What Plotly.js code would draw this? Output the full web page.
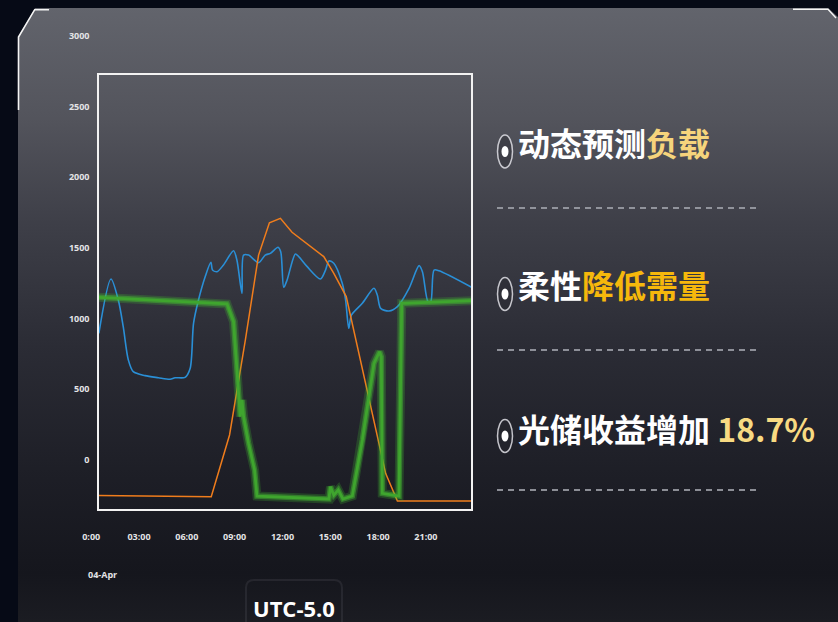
<!DOCTYPE html>
<html>
<head>
<meta charset="utf-8">
<script src="https://cdn.plot.ly/plotly-3.0.1.min.js"></script>
<style>
  html, body { margin: 0; padding: 0; background: #060a16; }
  #wrap { position: relative; width: 838px; height: 622px; overflow: hidden; background: #060a16; }
  #panel { position: absolute; left: 18px; top: 8px; width: 820px; height: 614px;
    background: linear-gradient(180deg, #62646c 0%, #53545c 18%, #3e3f48 35%, #2b2c35 55%, #1e1f27 75%, #15161d 92%, #1b1c22 100%);
    clip-path: polygon(0 29px, 17px 0, calc(100% - 10px) 0, 100% 9px, 100% 100%, 0 100%); }
  #chart { position: absolute; left: 0; top: 0; width: 838px; height: 622px; }
</style>
</head>
<body>
<div id="wrap">
  <div id="panel"></div>
  <div id="chart"></div>
</div>
<script>
// ---- data (hours of day, values) ----
const loadHours = [0.48,1.24,1.70,2.01,2.33,2.64,3.38,4.21,4.95,5.26,5.89,6.21,6.42,6.73,7.15,7.51,7.61,7.89,8.30,8.93,9.14,9.46,9.56,9.87,10.50,10.92,11.24,11.72,11.89,12.08,12.29,12.81,13.02,13.55,14.38,14.70,14.91,15.22,15.75,15.96,16.16,16.33,17.01,17.74,17.95,18.16,18.68,19.21,19.94,20.57,20.78,21.13,21.30,21.51,21.82,23.92];
const loadValues = [896,1281,1132,943,708,625,597,582,571,582,585,649,967,1132,1297,1399,1344,1332,1380,1481,1415,1179,1450,1450,1396,1450,1462,1505,1474,1222,1274,1458,1439,1368,1281,1344,1408,1392,1250,1132,932,1026,1109,1215,1168,1073,1054,1085,1215,1375,1332,1120,1120,1344,1339,1219];

const pvHours = [0.48,7.53,8.68,9.67,10.50,11.18,11.87,12.60,14.59,15.22,16.00,18.47,19.21,23.92];
const pvValues = [-252,-260,177,849,1450,1679,1710,1611,1439,1321,1156,-94,-290,-290];

const essHours = [0.48,8.52,8.93,9.25,9.35,9.46,9.56,9.87,10.25,10.40,14.91,15.01,15.22,15.50,15.79,16.38,17.01,17.74,18.09,18.20,18.26,19.31,19.48,23.92];
const essValues = [1151,1104,979,472,307,425,307,118,-71,-255,-276,-189,-248,-212,-276,-255,142,684,766,731,-236,-255,1109,1127];

const xTickHours = [0,3,6,9,12,15,18,21];
const xTickLabels = ['0:00','03:00','06:00','09:00','12:00','15:00','18:00','21:00'];
const yTickValues = [0,500,1000,1500,2000,2500,3000];
const dateLabel = '04-Apr';
const items = [
  {white: '动态预测', accent: '负载', accentColor: '#f6d47c'},
  {white: '柔性', accent: '降低需量', accentColor: '#f6b80c'},
  {white: '光储收益增加 ', accent: '18.7%', accentColor: '#f8da82'}
];
const tzLabel = 'UTC-5.0';

// ---- geometry helpers (page pixels -> paper fractions, margins are 0) ----
const W = 838, H = 622;
const px = x => x / W;
const py = y => 1 - y / H;

const traces = [
  {x: loadHours, y: loadValues, mode: 'lines', line: {color: '#2a8fd6', width: 1.6, shape: 'spline', smoothing: 0.8}},
  {x: pvHours, y: pvValues, mode: 'lines', line: {color: '#f07d1c', width: 1.5}},
  {x: essHours, y: essValues, mode: 'lines', line: {color: 'rgba(70,200,50,0.22)', width: 9}},
  {x: essHours, y: essValues, mode: 'lines', line: {color: 'rgba(70,190,50,0.45)', width: 5.5}},
  {x: essHours, y: essValues, mode: 'lines', line: {color: '#3fa52e', width: 2.8}}
];

const tickFont = {family: 'Open Sans, sans-serif', size: 9, color: '#e4e4e6', weight: 700};

const shapes = [
  // plot frame box
  {type: 'rect', xref: 'paper', yref: 'paper', x0: px(98), x1: px(472), y0: py(510), y1: py(74),
   line: {color: '#f2f2f2', width: 2}, fillcolor: 'rgba(0,0,0,0)', layer: 'above'},
  // top-left corner decoration
  {type: 'path', xref: 'paper', yref: 'paper',
   path: `M ${px(18.5)} ${py(110)} L ${px(18.5)} ${py(37)} L ${px(34.7)} ${py(9.7)} L ${px(49)} ${py(9.7)}`,
   line: {color: '#f4f4f4', width: 1.6}},
  // top-right corner decoration
  {type: 'path', xref: 'paper', yref: 'paper',
   path: `M ${px(793)} ${py(9.2)} L ${px(828)} ${py(9.2)} L ${px(836)} ${py(18)}`,
   line: {color: '#f4f4f4', width: 1.4}},
  // UTC label frame
  {type: 'path', xref: 'paper', yref: 'paper',
   path: `M ${px(246)} ${py(622)} L ${px(246)} ${py(588)} Q ${px(246)} ${py(580)} ${px(254)} ${py(580)} L ${px(334)} ${py(580)} Q ${px(342)} ${py(580)} ${px(342)} ${py(588)} L ${px(342)} ${py(622)}`,
   line: {color: 'rgba(200,200,210,0.09)', width: 2}}
];

const itemY = [142, 284, 428];
const iconY = [151.5, 294, 436];
const dashY = [208, 350, 490];
const annotations = [];
items.forEach((it, i) => {
  annotations.push({
    xref: 'paper', yref: 'paper', x: px(516), y: py(itemY[i]), xanchor: 'left', yanchor: 'middle',
    showarrow: false,
    text: `<b>${it.white}<span style="color:${it.accentColor}">${it.accent}</span></b>`,
    font: {family: 'Noto Sans CJK SC, sans-serif', size: 32, color: '#ffffff'}
  });
  shapes.push({type: 'circle', xref: 'paper', yref: 'paper',
    x0: px(497.5), x1: px(512.5), y0: py(iconY[i] + 16.5), y1: py(iconY[i] - 16.5),
    line: {color: 'rgba(225,225,230,0.85)', width: 1.5}, fillcolor: 'rgba(40,40,48,0.4)'});
  shapes.push({type: 'circle', xref: 'paper', yref: 'paper',
    x0: px(501.5), x1: px(508.5), y0: py(iconY[i] + 5.5), y1: py(iconY[i] - 5.5),
    line: {width: 0}, fillcolor: '#ffffff'});
  shapes.push({type: 'line', xref: 'paper', yref: 'paper',
    x0: px(497), x1: px(756), y0: py(dashY[i]), y1: py(dashY[i]),
    line: {color: 'rgba(160,162,170,0.85)', width: 2, dash: '6px,5px'}});
});
annotations.push({
  xref: 'paper', yref: 'paper', x: px(86), y: py(574), xanchor: 'left', yanchor: 'middle',
  showarrow: false, text: `<b>${dateLabel}</b>`, font: tickFont
});
annotations.push({
  xref: 'paper', yref: 'paper', x: px(294), y: py(608), xanchor: 'center', yanchor: 'middle',
  showarrow: false, text: `<b>${tzLabel}</b>`,
  font: {family: 'Open Sans, sans-serif', size: 22, color: '#ffffff'}
});

// axis mapping: hour h -> 91.2 + 15.94*h px ; value v -> 460 - 0.14133*v px
const xDomPx = [86, 480];
const yDomPx = [20, 515];
const hx = p => (p - 91.2) / 15.94;
const vy = p => (460 - p) / 0.14133;

const layout = {
  width: W, height: H,
  margin: {l: 0, r: 0, t: 0, b: 0, pad: 0},
  paper_bgcolor: 'rgba(0,0,0,0)', plot_bgcolor: 'rgba(0,0,0,0)',
  showlegend: false,
  xaxis: {
    domain: [px(xDomPx[0]), px(xDomPx[1])],
    range: [hx(xDomPx[0]), hx(xDomPx[1])],
    anchor: 'free', position: py(530),
    tickmode: 'array', tickvals: xTickHours, ticktext: xTickLabels,
    showgrid: false, zeroline: false, showline: false, ticks: '',
    tickfont: tickFont, fixedrange: true
  },
  yaxis: {
    domain: [py(yDomPx[1]), py(yDomPx[0])],
    range: [vy(yDomPx[1]), vy(yDomPx[0])],
    anchor: 'free', position: px(89.5),
    tickmode: 'array', tickvals: yTickValues,
    showgrid: false, zeroline: false, showline: false, ticks: '',
    tickfont: tickFont, fixedrange: true
  },
  shapes: shapes,
  annotations: annotations
};

Plotly.newPlot('chart', traces, layout, {staticPlot: true, displayModeBar: false});
</script>
</body>
</html>
